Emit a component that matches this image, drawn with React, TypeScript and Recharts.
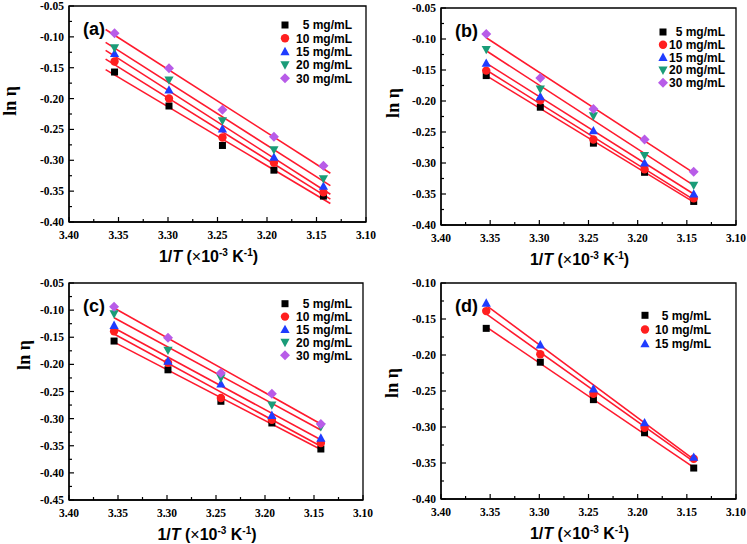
import React from 'react';
import { ScatterChart, Scatter, XAxis, YAxis, ReferenceLine, ReferenceArea } from 'recharts';

// 1/T values (x 10^-3 K^-1) shared by every panel
const invT = [3.354, 3.299, 3.245, 3.193, 3.143];
const concLabels = ['5 mg/mL', '10 mg/mL', '15 mg/mL', '20 mg/mL', '30 mg/mL'];

const xTicks = [3.4, 3.375, 3.35, 3.325, 3.3, 3.275, 3.25, 3.225, 3.2, 3.175, 3.15, 3.125, 3.1];
const yTicks40 = [-0.05, -0.075, -0.1, -0.125, -0.15, -0.175, -0.2, -0.225, -0.25, -0.275, -0.3, -0.325, -0.35, -0.375, -0.4];
const yTicks45 = [...yTicks40, -0.425, -0.45];
const yTicksD = [-0.1, -0.125, -0.15, -0.175, -0.2, -0.225, -0.25, -0.275, -0.3, -0.325, -0.35, -0.375, -0.4];

// ln(eta)
const a5 = [-0.157, -0.212, -0.276, -0.316, -0.358];
const a10 = [-0.14, -0.2, -0.263, -0.304, -0.352];
const a15 = [-0.127, -0.186, -0.249, -0.295, -0.342];
const a20 = [-0.118, -0.17, -0.236, -0.283, -0.33];
const a30 = [-0.094, -0.151, -0.218, -0.262, -0.309];

const b5 = [-0.159, -0.21, -0.268, -0.315, -0.362];
const b10 = [-0.151, -0.199, -0.262, -0.31, -0.357];
const b15 = [-0.139, -0.193, -0.248, -0.3, -0.35];
const b20 = [-0.117, -0.181, -0.224, -0.288, -0.336];
const b30 = [-0.092, -0.163, -0.213, -0.262, -0.314];

const c5 = [-0.157, -0.21, -0.268, -0.308, -0.356];
const c10 = [-0.139, -0.197, -0.262, -0.302, -0.345];
const c15 = [-0.128, -0.194, -0.236, -0.294, -0.336];
const c20 = [-0.107, -0.174, -0.225, -0.275, -0.315];
const c30 = [-0.094, -0.151, -0.216, -0.254, -0.31];

const d5 = [-0.163, -0.21, -0.262, -0.308, -0.357];
const d10 = [-0.139, -0.199, -0.254, -0.301, -0.344];
const d15 = [-0.128, -0.186, -0.247, -0.294, -0.342];

// fitted lines: [start, end] ln(eta) at the fit x range
const fitXA: [number, number] = [3.363, 3.136];
const fitXData: [number, number] = [3.354, 3.143];
const fitsA: [number, number][] = [[-0.153, -0.37], [-0.136, -0.363], [-0.122, -0.355], [-0.109, -0.341], [-0.088, -0.321]];
const fitsB: [number, number][] = [[-0.159, -0.363], [-0.15, -0.359], [-0.139, -0.35], [-0.119, -0.336], [-0.098, -0.316]];
const fitsC: [number, number][] = [[-0.159, -0.357], [-0.144, -0.351], [-0.133, -0.339], [-0.114, -0.321], [-0.096, -0.31]];
const fitsD: [number, number][] = [[-0.161, -0.356], [-0.143, -0.348], [-0.131, -0.345]];

type Kind = 'square' | 'circle' | 'triangle' | 'triangleDown' | 'diamond';
const kinds: Kind[] = ['square', 'circle', 'triangle', 'triangleDown', 'diamond'];
const colors = ['#000000', '#ff1f1f', '#1f3cff', '#1a9c78', '#b85ce8'];
const FIT_COLOR = '#ff1a2e';
const SERIF = '"Liberation Serif", "Times New Roman", serif';
const SANS = '"Liberation Sans", Arial, sans-serif';

function Marker({ kind, cx, cy, color }: { kind: Kind; cx: number; cy: number; color: string }) {
  switch (kind) {
    case 'square':
      return <rect x={cx - 3.5} y={cy - 3.5} width={7} height={7} fill={color} />;
    case 'circle':
      return <circle cx={cx} cy={cy} r={4.2} fill={color} />;
    case 'triangle':
      return <polygon points={`${cx},${cy - 4.8} ${cx + 4.6},${cy + 3.6} ${cx - 4.6},${cy + 3.6}`} fill={color} />;
    case 'triangleDown':
      return <polygon points={`${cx},${cy + 4.8} ${cx + 4.6},${cy - 3.6} ${cx - 4.6},${cy - 3.6}`} fill={color} />;
    default:
      return <polygon points={`${cx},${cy - 5} ${cx + 5},${cy} ${cx},${cy + 5} ${cx - 5},${cy}`} fill={color} />;
  }
}

const isMajor = (v: number) => Math.abs(Math.round(v * 1000)) % 50 === 0;

function XTick(props: any) {
  const { x, y, payload } = props;
  const v = payload.value as number;
  const major = isMajor(v);
  return (
    <g>
      <line x1={x} y1={y} x2={x} y2={y - (major ? 5 : 3)} stroke="#000" strokeWidth={1.2} />
      {major && (
        <text x={x} y={y + 17} textAnchor="middle" fill="#000" fontFamily={SERIF} fontWeight={700} fontSize={11.5}>
          {v.toFixed(2)}
        </text>
      )}
    </g>
  );
}

function YTick(props: any) {
  const { x, y, payload } = props;
  const v = payload.value as number;
  const major = isMajor(v);
  return (
    <g>
      <line x1={x} y1={y} x2={x + (major ? 5 : 3)} y2={y} stroke="#000" strokeWidth={1.2} />
      {major && (
        <text x={x - 5} y={y} dy="0.35em" textAnchor="end" fill="#000" fontFamily={SERIF} fontWeight={700} fontSize={11.5}>
          {v.toFixed(2)}
        </text>
      )}
    </g>
  );
}

interface Plot { left: number; top: number; width: number; height: number }
interface PanelSpec {
  tag: string;
  plot: Plot;
  yDomain: [number, number];
  yTicks: number[];
  values: number[][];
  fitX: [number, number];
  fits: [number, number][];
  legend: { x: number; y: number; step: number; textEnd: number };
  yTitle: [number, number];
}

const panels: PanelSpec[] = [
  {
    tag: '(a)', plot: { left: 69, top: 6, width: 297, height: 216 },
    yDomain: [-0.4, -0.05], yTicks: yTicks40, values: [a5, a10, a15, a20, a30],
    fitX: fitXA, fits: fitsA, legend: { x: 285, y: 25, step: 13.3, textEnd: 352 }, yTitle: [10, 101],
  },
  {
    tag: '(b)', plot: { left: 441, top: 8, width: 295, height: 217 },
    yDomain: [-0.4, -0.05], yTicks: yTicks40, values: [b5, b10, b15, b20, b30],
    fitX: fitXData, fits: fitsB, legend: { x: 663, y: 32, step: 12.7, textEnd: 725 }, yTitle: [393, 103],
  },
  {
    tag: '(c)', plot: { left: 69, top: 283, width: 294, height: 217 },
    yDomain: [-0.45, -0.05], yTicks: yTicks45, values: [c5, c10, c15, c20, c30],
    fitX: fitXData, fits: fitsC, legend: { x: 285, y: 303.7, step: 12.9, textEnd: 352 }, yTitle: [24, 355],
  },
  {
    tag: '(d)', plot: { left: 441, top: 283, width: 295, height: 216 },
    yDomain: [-0.4, -0.1], yTicks: yTicksD, values: [d5, d10, d15],
    fitX: fitXData, fits: fitsD, legend: { x: 645, y: 315.3, step: 14.2, textEnd: 711 }, yTitle: [392, 383],
  },
];

const AXIS_W = 69;
const PAD = 8;
const PAD_RIGHT = 14;
const XAXIS_H = 50;

function Panel({ spec }: { spec: PanelSpec }) {
  const { plot } = spec;
  return (
    <div style={{ position: 'absolute', left: plot.left - AXIS_W, top: plot.top - PAD }}>
      <ScatterChart
        width={plot.width + AXIS_W + PAD_RIGHT}
        height={plot.height + PAD + XAXIS_H}
        margin={{ top: PAD, right: PAD_RIGHT, bottom: 0, left: 0 }}
      >
        <XAxis
          type="number"
          dataKey="x"
          domain={[3.1, 3.4]}
          reversed
          ticks={xTicks}
          interval={0}
          height={XAXIS_H}
          tickSize={0}
          tickMargin={0}
          tick={<XTick />}
          axisLine={{ stroke: '#000', strokeWidth: 1.3 }}
          allowDataOverflow
        />
        <YAxis
          type="number"
          dataKey="y"
          domain={spec.yDomain}
          ticks={spec.yTicks}
          interval={0}
          width={AXIS_W}
          tickSize={0}
          tickMargin={0}
          tick={<YTick />}
          axisLine={{ stroke: '#000', strokeWidth: 1.3 }}
          allowDataOverflow
        />
        <ReferenceArea
          x1={3.1}
          x2={3.4}
          y1={spec.yDomain[0]}
          y2={spec.yDomain[1]}
          fill="none"
          fillOpacity={0}
          stroke="#000"
          strokeWidth={1.3}
        />
        {spec.values.map((vals, i) => (
          <Scatter
            key={concLabels[i]}
            name={concLabels[i]}
            data={invT.map((x, j) => ({ x, y: vals[j] }))}
            isAnimationActive={false}
            shape={(p: any) => <Marker kind={kinds[i]} cx={p.cx} cy={p.cy} color={colors[i]} />}
          />
        ))}
        {spec.fits.map((f, i) => (
          <ReferenceLine
            key={`fit-${i}`}
            segment={[
              { x: spec.fitX[0], y: f[0] },
              { x: spec.fitX[1], y: f[1] },
            ]}
            stroke={FIT_COLOR}
            strokeWidth={1.6}
          />
        ))}
      </ScatterChart>
    </div>
  );
}

function Overlay() {
  return (
    <svg width={747} height={544} style={{ position: 'absolute', left: 0, top: 0, pointerEvents: 'none' }}>
      {panels.map((p) => {
        const { plot, legend } = p;
        return (
          <g key={p.tag}>
            <text x={plot.left + 14} y={plot.top + 29} fontFamily={SANS} fontWeight={700} fontSize={18} fill="#000">
              {p.tag}
            </text>
            {p.values.map((_, i) => {
              const cy = legend.y + i * legend.step;
              return (
                <g key={i}>
                  <Marker kind={kinds[i]} cx={legend.x} cy={cy} color={colors[i]} />
                  <text x={legend.textEnd} y={cy} dy="0.36em" textAnchor="end" fontFamily={SANS} fontWeight={700} fontSize={12} fill="#000">
                    {concLabels[i]}
                  </text>
                </g>
              );
            })}
            <text
              x={plot.left + plot.width / 2 - 9}
              y={plot.top + plot.height + 40}
              textAnchor="middle"
              fontFamily={SANS}
              fontWeight={700}
              fontSize={16}
              fill="#000"
            >
              1/<tspan fontStyle="italic">T</tspan> (<tspan fontWeight={400}>×</tspan>10
              <tspan dy={-6} fontSize={10}>-3</tspan>
              <tspan dy={6}> K</tspan>
              <tspan dy={-6} fontSize={10}>-1</tspan>
              <tspan dy={6}>)</tspan>
            </text>
            <text
              x={p.yTitle[0]}
              y={p.yTitle[1]}
              transform={`rotate(-90 ${p.yTitle[0]} ${p.yTitle[1]})`}
              textAnchor="middle"
              dy="0.35em"
              fontFamily={SERIF}
              fontWeight={700}
              fontSize={18}
              fill="#000"
            >
              ln η
            </text>
          </g>
        );
      })}
    </svg>
  );
}

export default function App() {
  return (
    <div style={{ position: 'absolute', left: 0, top: 0, width: 747, height: 544, background: '#fff', overflow: 'hidden' }}>
      {panels.map((p) => (
        <Panel key={p.tag} spec={p} />
      ))}
      <Overlay />
    </div>
  );
}
